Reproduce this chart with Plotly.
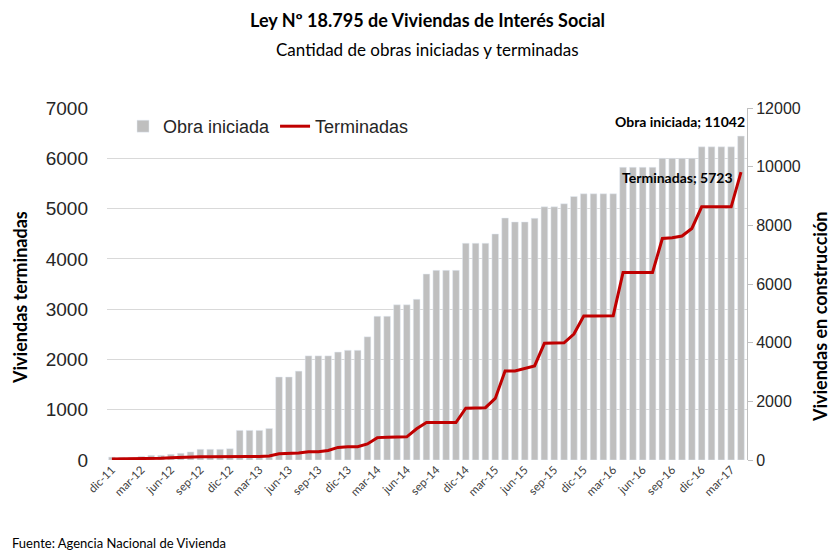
import plotly.graph_objects as go

# monthly, dic-11 .. abr-17
meses = ["ene", "feb", "mar", "abr", "may", "jun", "jul", "ago", "sep", "oct", "nov", "dic"]
periodos = ["dic-11"] + [f"{m}-{a}" for a in range(12, 18) for m in meses][:64]

# Viviendas en construcción (right axis)
obra_iniciada = [
    100, 90, 90, 125, 160, 160, 195, 230, 275, 365, 365, 365, 385,
    1010, 1010, 1010, 1075, 2830, 2830, 3030, 3550, 3550, 3550, 3680,
    3740, 3740, 4200, 4900, 4900, 5290, 5290, 5480, 6340, 6465, 6465,
    6465, 7390, 7390, 7390, 7705, 8250, 8115, 8115, 8240, 8630, 8630,
    8735, 8985, 9075, 9075, 9075, 9075, 9980, 9980, 9980, 9980, 10285,
    10285, 10285, 10285, 10675, 10675, 10675, 10675, 11042,
]

# Viviendas terminadas (left axis)
terminadas = [
    20, 20, 20, 30, 30, 35, 45, 55, 60, 65, 65, 70, 70,
    70, 70, 70, 80, 125, 125, 140, 165, 165, 190, 250,
    265, 265, 320, 445, 450, 460, 460, 620, 745, 745, 745,
    745, 1030, 1030, 1040, 1225, 1770, 1770, 1820, 1870, 2320, 2320,
    2330, 2505, 2865, 2865, 2865, 2870, 3730, 3730, 3730, 3730, 4405,
    4420, 4455, 4605, 5035, 5035, 5035, 5035, 5723,
]

tick_labels = periodos[::3]

GRIS = "#BFBFBF"
ROJO = "#C00000"
TXT = "#262626"

fig = go.Figure()
fig.add_bar(
    name="Obra iniciada", x=periodos, y=obra_iniciada,
    marker_color=GRIS, yaxis="y",
)
fig.add_scatter(
    name="Terminadas", x=periodos, y=terminadas, mode="lines",
    line=dict(color=ROJO, width=3), yaxis="y2",
)

fig.update_layout(
    width=833, height=550,
    margin=dict(l=107, r=86, t=108, b=90),
    paper_bgcolor="white", plot_bgcolor="white",
    bargap=0.32,
    showlegend=True,
    legend=dict(
        orientation="h", x=0.025, y=1.0, xanchor="left", yanchor="top",
        bgcolor="rgba(0,0,0,0)",
        font=dict(family="Liberation Sans", size=18, color=TXT),
        itemwidth=30, traceorder="normal",
    ),
    xaxis=dict(
        type="category", tickmode="array", tickvals=tick_labels, ticktext=tick_labels,
        tickangle=-45, showgrid=False, showline=False, ticks="",
        tickfont=dict(family="Lato", size=11.5, color="#404040"),
    ),
    yaxis=dict(
        side="right", range=[0, 12000], dtick=2000, showgrid=False, tickformat="d",
        showline=True, linecolor=GRIS, ticks="outside", ticklen=5, tickcolor=GRIS,
        tickfont=dict(family="Liberation Sans", size=16, color=TXT),
    ),
    yaxis2=dict(
        side="left", overlaying="y", range=[0, 7000], dtick=1000, tickformat="d",
        showgrid=True, gridcolor="#D9D9D9", gridwidth=1, zeroline=False,
        showline=False, ticks="", ticklabelstandoff=18,
        tickfont=dict(family="Liberation Sans", size=19, color=TXT),
    ),
    annotations=[
        dict(text="<b>Ley Nº 18.795 de Viviendas de Interés Social</b>",
             xref="paper", yref="paper", x=0.5, y=1.25, yanchor="middle",
             showarrow=False, font=dict(family="Lato", size=18, color="black")),
        dict(text="Cantidad de obras iniciadas y terminadas",
             xref="paper", yref="paper", x=0.5, y=1.165, yanchor="middle",
             showarrow=False, font=dict(family="Lato", size=17, color="black")),
        dict(text="<b>Viviendas terminadas</b>", textangle=-90,
             xref="paper", yref="paper", x=-0.136, y=0.463,
             xanchor="center", yanchor="middle", showarrow=False,
             font=dict(family="Lato", size=18, color="black")),
        dict(text="<b>Viviendas en construcción</b>", textangle=-90,
             xref="paper", yref="paper", x=1.114, y=0.406,
             xanchor="center", yanchor="middle", showarrow=False,
             font=dict(family="Lato", size=18, color="black")),
        dict(text=f"<b>Obra iniciada; {obra_iniciada[-1]}</b>",
             xref="x", yref="y", x=periodos[-1], y=obra_iniciada[-1],
             xanchor="right", yanchor="bottom", xshift=6, yshift=4,
             showarrow=False, font=dict(family="Lato", size=14, color="black")),
        dict(text=f"<b>Terminadas; {terminadas[-1]}</b>",
             xref="x", yref="y2", x=periodos[-1], y=terminadas[-1],
             xanchor="right", yanchor="middle", xshift=-6, yshift=-5,
             showarrow=False, font=dict(family="Lato", size=14, color="black")),
        dict(text="Fuente: Agencia Nacional de Vivienda",
             xref="paper", yref="paper", x=-0.152, y=-0.236,
             xanchor="left", yanchor="middle", showarrow=False,
             font=dict(family="Lato", size=13, color="black")),
    ],
)

# drop the default page margin so the 833x550 figure fills the window exactly
fig.write_html(
    "out.html",
    config={"displayModeBar": False},
    post_script="document.body.style.margin = '0';",
)
